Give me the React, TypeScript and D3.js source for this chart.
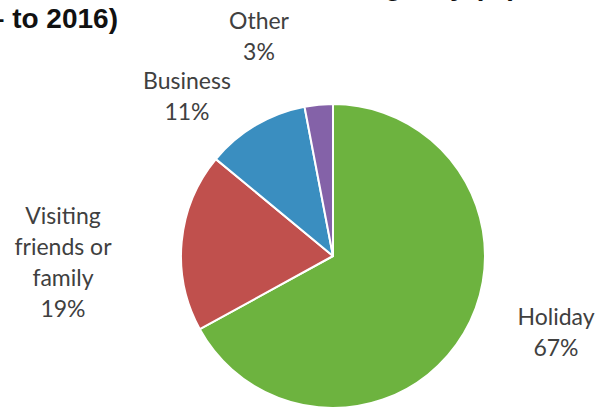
import React from "react";
import * as d3 from "d3";

const categories = ["Holiday", "Visiting friends or family", "Business", "Other"];
const values = [67, 19, 11, 3];
const colors = ["#6db33f", "#c0504d", "#3a8ec0", "#8462a8"];
// label lines per slice
const labelLines = [["Holiday", "67%"], ["Visiting", "friends or", "family", "19%"], ["Business", "11%"], ["Other", "3%"]];
const labelPos = [[556, 325], [63, 224], [187, 89], [259, 29]];

const titleLine1 = "Share of visits made without an agency (%)";
const titleLine2 = "(2006 – to 2016)";

export default function App() {
  const W = 599, H = 410;
  const cx = 333, cy = 256, r = 152;
  const pie = d3.pie<number>().sort(null).value((d) => d);
  const arcs = pie(values);
  const arc = d3.arc<d3.PieArcDatum<number>>().innerRadius(0).outerRadius(r);
  const lh = 31;
  return (
    <svg width={W} height={H} style={{ position: "absolute", left: 0, top: 0, background: "#fff" }}>
      <text x={517} y={-5} textAnchor="end" fontFamily="Liberation Sans, Arial, sans-serif" fontWeight="bold" fontSize={28} fill="#111">{titleLine1}</text>
      <text x={118} y={28} textAnchor="end" fontFamily="Liberation Sans, Arial, sans-serif" fontWeight="bold" fontSize={28} fill="#111">{titleLine2}</text>
      <g transform={`translate(${cx},${cy})`}>
        {arcs.map((a, i) => (
          <path key={categories[i]} d={arc(a) || ""} fill={colors[i]} stroke="#fff" strokeWidth={2} strokeLinejoin="round" />
        ))}
      </g>
      {labelLines.map((lines, i) => (
        <text key={i} textAnchor="middle" fontFamily="Lato, 'Open Sans', sans-serif" fontSize={23} fill="#404040">
          {lines.map((l, j) => (
            <tspan key={j} x={labelPos[i][0]} y={labelPos[i][1] + j * lh}>{l}</tspan>
          ))}
        </text>
      ))}
    </svg>
  );
}
